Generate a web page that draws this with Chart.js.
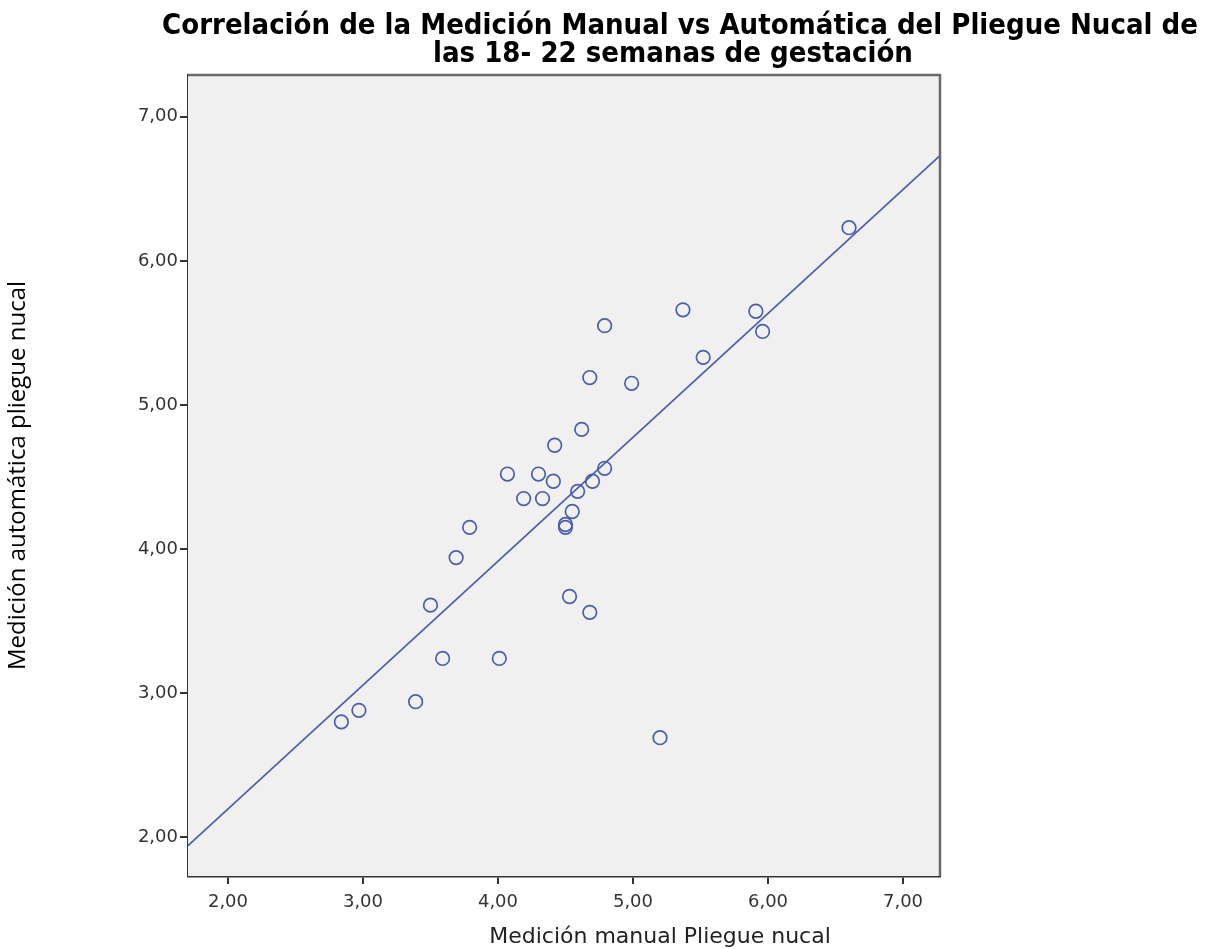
<!DOCTYPE html>
<html>
<head>
  <title>Correlación Pliegue Nucal</title>
  <script src="https://cdn.jsdelivr.net/npm/chart.js"></script>
  <style>
    html, body { margin: 0; padding: 0; background: #fff; }
    #wrap { width: 1208px; height: 949px; }
  </style>
</head>
<body>
  <div id="wrap"><canvas id="scatterChart"></canvas></div>

  <script>
    // data
    const xManual = [6.60, 5.37, 5.91, 4.79, 5.96, 5.52, 4.68, 4.99, 4.62, 4.42, 4.07, 4.30, 4.79, 4.41, 4.70, 4.19,
                     4.33, 4.59, 4.55, 3.79, 4.50, 4.50, 3.69, 3.50, 4.53, 4.68, 3.59, 4.01, 3.39, 2.97, 2.84, 5.20];
    const yAuto   = [6.23, 5.66, 5.65, 5.55, 5.51, 5.33, 5.19, 5.15, 4.83, 4.72, 4.52, 4.52, 4.56, 4.47, 4.47, 4.35,
                     4.35, 4.40, 4.26, 4.15, 4.17, 4.15, 3.94, 3.61, 3.67, 3.56, 3.24, 3.24, 2.94, 2.88, 2.80, 2.69];
    const xTicks = [2, 3, 4, 5, 6, 7];
    const yTicks = [2, 3, 4, 5, 6, 7];
    const xRange = [1.704, 7.274];
    const yRange = [1.73, 7.29];
    // fit line y = a + b*x
    const fitIntercept = 0.475;
    const fitSlope = 0.86;

    const titleLines = ['Correlación de la Medición Manual vs Automática del Pliegue Nucal de',
                        'las 18- 22 semanas de gestación'];
    const xTitle = 'Medición manual Pliegue nucal';
    const yTitle = 'Medición automática pliegue nucal';

    const blue = 'rgb(76, 94, 170)';
    const fmt = v => v.toFixed(2).replace('.', ',');

    const points = xManual.map((x, i) => ({ x: x, y: yAuto[i] }));
    const fitPoints = xRange.map(x => ({ x: x, y: fitIntercept + fitSlope * x }));

    // background + frame of the plot, and the free-standing texts
    const decor = {
      id: 'decor',
      beforeDatasetsDraw(chart) {
        const a = chart.chartArea, c = chart.ctx;
        c.save();
        c.fillStyle = '#f0f0f0';
        c.fillRect(a.left, a.top, a.right - a.left, a.bottom - a.top);
        c.restore();
      },
      afterDraw(chart) {
        const a = chart.chartArea, c = chart.ctx;
        c.save();
        c.strokeStyle = '#6a6a6a';
        c.lineWidth = 2.5;
        c.beginPath();
        c.moveTo(a.left, a.top);
        c.lineTo(a.right, a.top);
        c.lineTo(a.right, a.bottom);
        c.stroke();

        c.fillStyle = '#000';
        c.textAlign = 'center';
        c.textBaseline = 'alphabetic';
        c.font = 'bold 29px "DejaVu Sans Condensed", "DejaVu Sans"';
        c.fillText(titleLines[0], 680, 34);
        c.fillText(titleLines[1], 673, 62);

        c.fillStyle = '#222';
        c.font = '22px "DejaVu Sans"';
        c.fillText(xTitle, 660, 943);
        c.restore();
      }
    };

    const ctx = document.getElementById('scatterChart').getContext('2d');
    const chart = new Chart(ctx, {
      type: 'scatter',
      data: {
        datasets: [
          {
            label: 'Fit',
            data: fitPoints,
            showLine: true,
            borderColor: blue,
            borderWidth: 1.8,
            pointRadius: 0,
            fill: false
          },
          {
            label: 'Mediciones',
            data: points,
            pointStyle: 'circle',
            pointRadius: 6.8,
            pointBorderWidth: 1.7,
            pointBorderColor: blue,
            pointBackgroundColor: 'rgba(0,0,0,0)'
          }
        ]
      },
      options: {
        responsive: true,
        maintainAspectRatio: false,
        animation: false,
        layout: { padding: { top: 75, right: 268, bottom: 0, left: 0 } },
        plugins: {
          legend: { display: false },
          tooltip: { enabled: false }
        },
        scales: {
          x: {
            type: 'linear',
            min: xRange[0],
            max: xRange[1],
            afterBuildTicks: s => { s.ticks = xTicks.map(v => ({ value: v })); },
            afterFit: s => { s.height = 73; },
            ticks: {
              callback: v => fmt(v),
              color: '#333',
              font: { family: 'DejaVu Sans', size: 18 },
              padding: 8,
              maxRotation: 0
            },
            grid: { drawOnChartArea: false, tickLength: 8, color: '#333', lineWidth: 2 },
            border: { color: '#333', width: 2.5 }
          },
          y: {
            type: 'linear',
            min: yRange[0],
            max: yRange[1],
            afterBuildTicks: s => { s.ticks = yTicks.map(v => ({ value: v })); },
            afterFit: s => { s.width = 188; },
            ticks: {
              callback: v => fmt(v),
              color: '#333',
              font: { family: 'DejaVu Sans', size: 18 },
              padding: 2
            },
            grid: { drawOnChartArea: false, tickLength: 8, color: '#333', lineWidth: 2 },
            border: { color: '#333', width: 2.5 },
            title: {
              display: true,
              text: yTitle,
              color: '#000',
              font: { family: 'Open Sans', size: 24 },
              padding: { top: 4, bottom: 0 }
            }
          }
        }
      },
      plugins: [decor]
    });
  </script>
</body>
</html>
